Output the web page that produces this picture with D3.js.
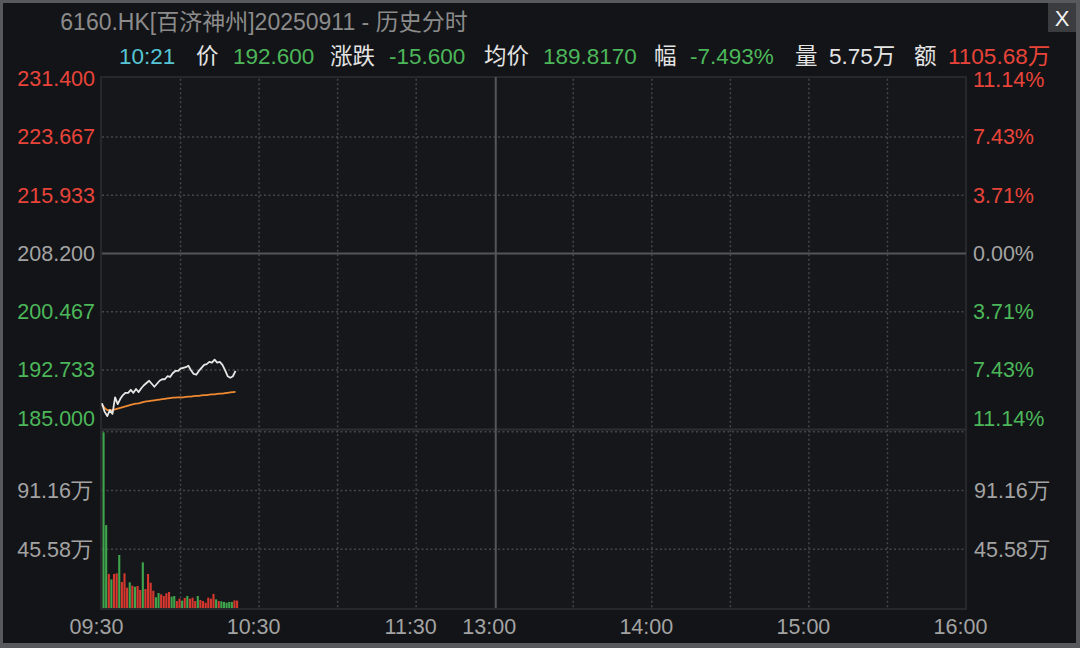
<!DOCTYPE html>
<html><head><meta charset="utf-8">
<script src="https://cdn.jsdelivr.net/npm/d3@7"></script>
<style>
html,body{margin:0;padding:0;background:#141519;overflow:hidden;}
svg{display:block;font-family:"Liberation Sans","Helvetica Neue",Arial,"Noto Sans CJK SC",sans-serif;}
</style></head><body>
<svg id="c" width="1080" height="648"></svg>
<script>
// ---------------- data ----------------
const titleText = "6160.HK[百济神州]20250911 - 历史分时";
const prevClose = 208.2;
const infoLabels = ["10:21", "价", "192.600", "涨跌", "-15.600", "均价", "189.8170", "幅", "-7.493%", "量", "5.75万", "额", "1105.68万"];
const infoKinds  = ["time", "label", "down", "label", "down", "label", "down", "label", "down", "label", "plain", "label", "up"];

const minuteTimes = ["09:30","09:31","09:32","09:33","09:34","09:35","09:36","09:37","09:38","09:39",
  "09:40","09:41","09:42","09:43","09:44","09:45","09:46","09:47","09:48","09:49",
  "09:50","09:51","09:52","09:53","09:54","09:55","09:56","09:57","09:58","09:59",
  "10:00","10:01","10:02","10:03","10:04","10:05","10:06","10:07","10:08","10:09",
  "10:10","10:11","10:12","10:13","10:14","10:15","10:16","10:17","10:18","10:19",
  "10:20","10:21"];
const priceValues = [188.3,187.2,186.6,187.4,186.9,189.1,188.2,188.9,189.4,189.7,
  189.7,190.1,189.7,190.2,189.8,190.3,190.7,191.0,191.3,190.9,
  190.5,190.9,191.3,191.5,191.5,191.9,191.8,192.3,192.6,192.6,
  192.9,193.0,193.1,193.3,192.7,192.2,192.1,192.6,193.0,193.4,
  193.5,193.8,193.7,194.1,193.7,193.8,193.4,192.7,191.9,191.7,
  191.9,192.6];
const avgValues = [188.10,187.70,187.40,187.40,187.40,187.50,187.60,187.70,187.80,187.90,
  188.00,188.10,188.20,188.25,188.30,188.40,188.50,188.55,188.60,188.65,
  188.70,188.75,188.80,188.85,188.90,188.95,189.00,189.05,189.05,189.10,
  189.10,189.10,189.15,189.20,189.20,189.25,189.30,189.30,189.35,189.40,
  189.40,189.45,189.50,189.50,189.55,189.60,189.60,189.65,189.70,189.75,
  189.80,189.817];
// volume in 万
const volumeValues = [136.2,64.3,26.4,22.2,26.4,26.9,41.1,20.2,26.9,15.8,
  19.9,17.3,16.5,17.1,14.0,35.4,14.7,26.4,19.6,13.4,
  8.3,11.6,10.6,9.3,11.4,12.4,8.8,9.3,5.4,7.2,
  5.7,7.8,9.3,7.2,8.0,5.4,9.3,6.2,5.4,4.1,
  8.0,7.2,10.9,6.7,5.4,5.2,4.7,4.1,4.7,4.7,
  5.9,5.75];
const volumeDirection = ["d","d","u","d","u","u","d","u","u","u",
  "d","u","d","u","u","d","u","u","u","u",
  "d","d","u","u","u","u","d","d","u","u",
  "d","u","d","u","u","u","d","u","u","u",
  "u","u","u","d","u","d","d","d","d","d",
  "u","u"];

const priceTicks = [231.400, 223.667, 215.933, 208.200, 200.467, 192.733, 185.000];
const pctTickLabels = ["11.14%","7.43%","3.71%","0.00%","3.71%","7.43%","11.14%"];
const volumeTicks = [45.58, 91.16];
const volumeTickLabels = ["45.58万", "91.16万"];
const volumeMax = 136.74;
const timeTickLabels = ["09:30","10:30","11:30","13:00","14:00","15:00","16:00"];
const timeGridLabels = ["10:00","10:30","11:00","11:30","13:30","14:00","14:30","15:00","15:30"];
const middayLabel = "13:00";

// ---------------- style ----------------
const C = {
  frame: "#58595c", bg: "#131417", plotBg: "#16171a",
  grid: "#45464b", solid: "#54555a", border: "#2e2f33",
  red: "#e8443a", green: "#4cb75a", gray: "#a3a3a3", white: "#e4e4e4",
  cyan: "#56c5d5", title: "#8b8b8b", barRed: "#d6382f", barGreen: "#3fa54c",
  priceLine: "#e6e6e6", avgLine: "#ee8a32"
};

const svg = d3.select("#c");
const W = 1080, H = 648;
const L = 102, R = 966, PT = 78.7, PB = 428.2, VT = 431.7, VB = 608;

function minuteIndex(t) {
  const [h, m] = t.split(":").map(Number);
  let v = h * 60 + m - 570;
  if (v > 150) v -= 60;
  return v;
}

const x = d3.scaleLinear().domain([0, 330]).range([L, R]);
const yP = d3.scaleLinear().domain([185, 231.4]).range([PB, PT]);
const yV = d3.scaleLinear().domain([0, volumeMax]).range([VB, VT]);

// background and frame
svg.append("rect").attr("width", W).attr("height", H).attr("fill", C.frame);
svg.append("rect").attr("x", 3).attr("y", 3).attr("width", W - 7).attr("height", H - 8).attr("fill", C.bg);
svg.append("rect").attr("x", L - 1).attr("y", 77).attr("width", R - L + 1).attr("height", VB - 77 + 1)
  .attr("fill", C.plotBg).attr("stroke", C.border).attr("stroke-width", 1.5);

// title
svg.append("text").attr("x", 264).attr("y", 22).attr("text-anchor", "middle").attr("dy", "0.35em")
  .attr("fill", C.title).attr("font-size", 23).text(titleText);

// close button
svg.append("rect").attr("x", 1048).attr("y", 3).attr("width", 28).attr("height", 29).attr("fill", "#3b3c40");
svg.append("text").attr("x", 1062).attr("y", 18).attr("text-anchor", "middle").attr("dy", "0.36em")
  .attr("fill", "#f2f2f2").attr("font-size", 22).text("X");

// info row
const infoX = [119, 196, 233, 330, 389, 484, 543, 654, 690, 795, 829, 914, 948];
const kindColor = {time: C.cyan, label: C.white, down: C.green, up: C.red, plain: C.white};
svg.append("g").selectAll("text").data(infoLabels).join("text")
  .attr("x", (d, i) => infoX[i]).attr("y", 56).attr("dy", "0.36em")
  .attr("font-size", 22.5).attr("fill", (d, i) => kindColor[infoKinds[i]]).text(d => d);

// grid: vertical dotted
const gGrid = svg.append("g");
gGrid.selectAll("line.v").data(timeGridLabels).join("line")
  .attr("x1", d => x(minuteIndex(d))).attr("x2", d => x(minuteIndex(d)))
  .attr("y1", PT).attr("y2", VB)
  .attr("stroke", C.grid).attr("stroke-width", 1.5).attr("stroke-dasharray", "2,2.5");
// horizontal dotted price
gGrid.selectAll("line.hp").data(priceTicks.filter(d => d !== prevClose && d !== 231.4 && d !== 185)).join("line")
  .attr("x1", L).attr("x2", R).attr("y1", d => yP(d)).attr("y2", d => yP(d))
  .attr("stroke", C.grid).attr("stroke-width", 1.5).attr("stroke-dasharray", "2,2.5");
// volume dotted
gGrid.append("g").selectAll("line").data(volumeTicks.concat([volumeMax])).join("line")
  .attr("x1", L).attr("x2", R).attr("y1", d => yV(d)).attr("y2", d => yV(d))
  .attr("stroke", C.grid).attr("stroke-width", 1.5).attr("stroke-dasharray", "2,2.5");
// separator between panels
svg.append("line").attr("x1", L).attr("x2", R).attr("y1", 429.6).attr("y2", 429.6)
  .attr("stroke", C.border).attr("stroke-width", 2);
// prev close solid
svg.append("line").attr("x1", L).attr("x2", R).attr("y1", yP(prevClose)).attr("y2", yP(prevClose))
  .attr("stroke", C.solid).attr("stroke-width", 2);
// midday solid
svg.append("line").attr("x1", x(minuteIndex(middayLabel)) + 1).attr("x2", x(minuteIndex(middayLabel)) + 1)
  .attr("y1", 77).attr("y2", VB).attr("stroke", C.solid).attr("stroke-width", 2);

// volume bars
svg.append("g").selectAll("rect").data(volumeValues).join("rect")
  .attr("x", (d, i) => x(minuteIndex(minuteTimes[i])) + 0.5)
  .attr("width", 2.1)
  .attr("y", d => yV(d)).attr("height", d => VB - yV(d))
  .attr("fill", (d, i) => volumeDirection[i] === "u" ? C.barRed : C.barGreen);

// avg line
svg.append("path").datum(avgValues)
  .attr("d", d3.line().x((d, i) => x(minuteIndex(minuteTimes[i]))).y(d => yP(d)))
  .attr("fill", "none").attr("stroke", C.avgLine).attr("stroke-width", 1.8);
// price line
svg.append("path").datum(priceValues)
  .attr("d", d3.line().x((d, i) => x(minuteIndex(minuteTimes[i]))).y(d => yP(d)))
  .attr("fill", "none").attr("stroke", C.priceLine).attr("stroke-width", 1.8).attr("stroke-linejoin", "round");

// axes
const priceColor = d => d > prevClose + 1e-6 ? C.red : (d < prevClose - 1e-6 ? C.green : C.gray);
const axL = svg.append("g").attr("transform", `translate(${L - 1},0)`)
  .call(d3.axisLeft(yP).tickValues(priceTicks).tickFormat(d3.format(".3f")).tickSize(0).tickPadding(6));
axL.select(".domain").remove();
axL.selectAll("text").attr("font-size", 21.5).attr("font-family", null).attr("fill", d => priceColor(d))
  .attr("transform", d => d === 185 ? "translate(0,-10)" : null);

const axR = svg.append("g").attr("transform", `translate(${R},0)`)
  .call(d3.axisRight(yP).tickValues(priceTicks).tickFormat((d, i) => pctTickLabels[i]).tickSize(0).tickPadding(7));
axR.select(".domain").remove();
axR.selectAll("text").attr("font-size", 21.5).attr("font-family", null).attr("fill", d => priceColor(d))
  .attr("transform", d => d === 185 ? "translate(0,-10)" : (d === 231.4 ? "translate(0,1)" : null));

const axVL = svg.append("g").attr("transform", `translate(${L - 1},0)`)
  .call(d3.axisLeft(yV).tickValues(volumeTicks).tickFormat((d, i) => volumeTickLabels[i]).tickSize(0).tickPadding(8));
axVL.select(".domain").remove();
axVL.selectAll("text").attr("font-size", 21.5).attr("font-family", null).attr("fill", C.gray);

const axVR = svg.append("g").attr("transform", `translate(${R},0)`)
  .call(d3.axisRight(yV).tickValues(volumeTicks).tickFormat((d, i) => volumeTickLabels[i]).tickSize(0).tickPadding(8));
axVR.select(".domain").remove();
axVR.selectAll("text").attr("font-size", 21.5).attr("font-family", null).attr("fill", C.gray);

const axB = svg.append("g").attr("transform", `translate(0,${VB})`)
  .call(d3.axisBottom(x).tickValues(timeTickLabels.map(minuteIndex)).tickFormat((d, i) => timeTickLabels[i]).tickSize(0).tickPadding(11));
axB.select(".domain").remove();
axB.selectAll("text").attr("font-size", 21.5).attr("font-family", null).attr("fill", C.gray).attr("dx", -6);
</script>
</body></html>
